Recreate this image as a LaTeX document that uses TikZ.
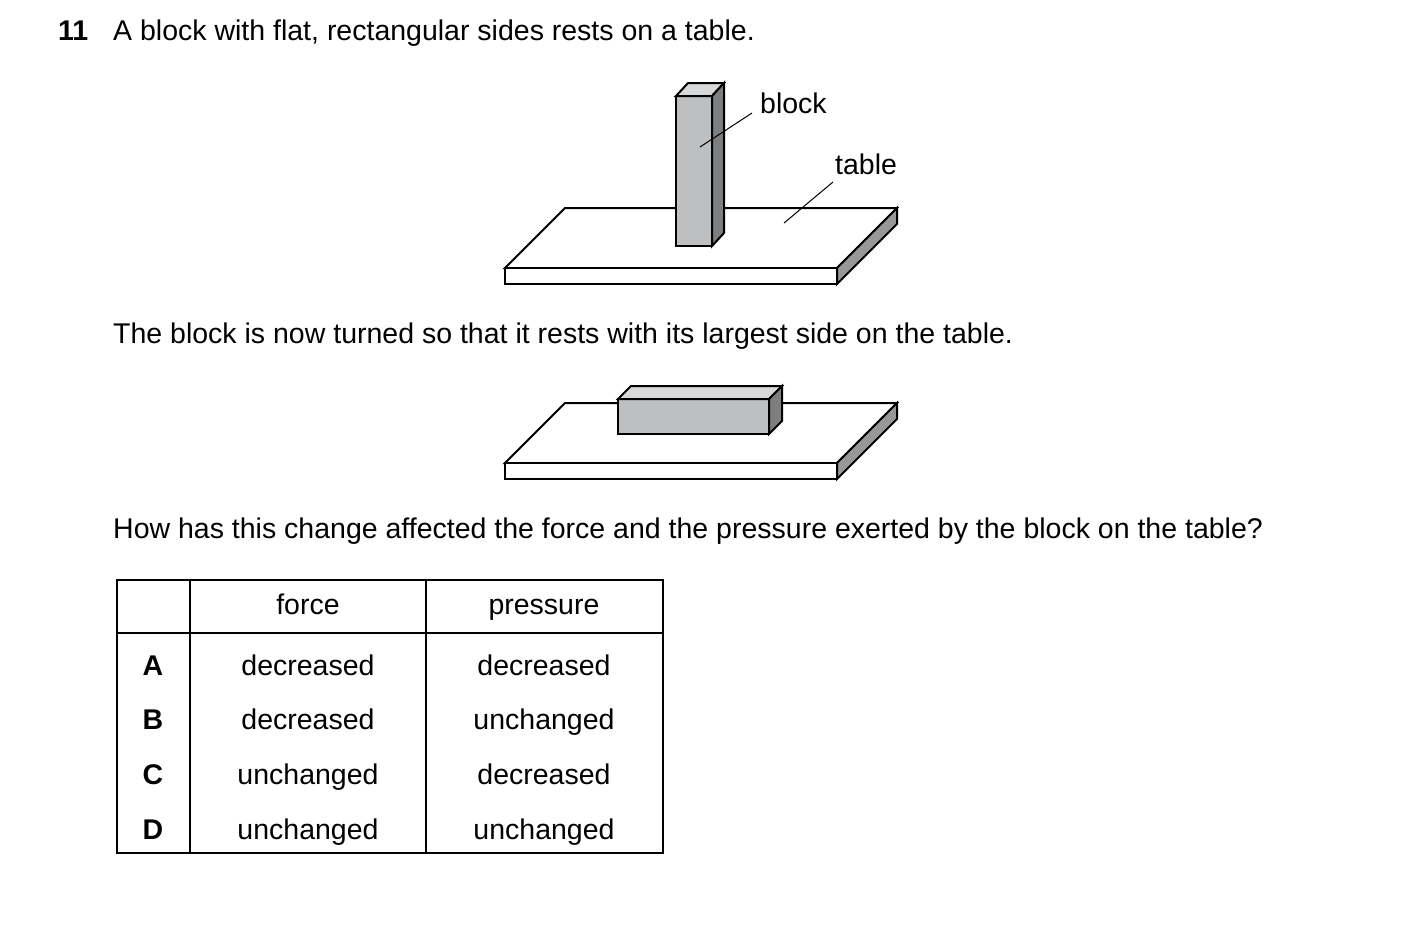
\documentclass[tikz,border=0pt]{standalone}
\usepackage{fontspec}
\setmainfont{Liberation Sans}
\definecolor{blockgrey}{RGB}{190,191,193}
\definecolor{blocktop}{RGB}{215,216,218}
\definecolor{blockside}{RGB}{125,126,128}
\begin{document}
\begin{tikzpicture}[x=1pt,y=-1pt,
    txt/.style={inner sep=0pt,text height=20pt,text depth=6pt,font=\fontsize{28.5}{32}\selectfont},
    edge/.style={line width=2pt,line join=miter},
    leader/.style={line width=1pt}]
\useasboundingbox (0,0) rectangle (1403,946);

\node[txt,anchor=west,font=\fontsize{28.5}{32}\selectfont\bfseries] (num) at (58,33) {11};
\node[txt,anchor=west] (q1) at (113,33) {A block with flat, rectangular sides rests on a table.};
\node[txt,anchor=west] (q2) at (113,336) {The block is now turned so that it rests with its largest side on the table.};
\node[txt,anchor=west] (q3) at (113,531) {How has this change affected the force and the pressure exerted by the block on the table?};

% first table with upright block
\draw[edge,fill=white] (565,208) -- (897,208) -- (837,268) -- (505,268) -- cycle;
\draw[edge,fill=white] (505,268) rectangle (837,284);
\draw[edge,fill=blockside!80] (837,268) -- (897,208) -- (897,224) -- (837,284) -- cycle;
\draw[edge,fill=blockgrey] (676,96) rectangle (712,246);
\draw[edge,fill=blocktop] (676,96) -- (688,83) -- (724,83) -- (712,96) -- cycle;
\draw[edge,fill=blockside] (712,96) -- (724,83) -- (724,233) -- (712,246) -- cycle;
\node[txt,anchor=west] (blk) at (760,106) {block};
\node[txt,anchor=west] (tbl) at (835,167) {table};
\coordinate (blkpt) at (700,147);
\coordinate (blkend) at (752,113);
\coordinate (tblpt) at (784,223);
\coordinate (tblend) at (833,182);
\draw[leader] (blkpt) -- (blkend);
\draw[leader] (tblpt) -- (tblend);

% second table with block on its side
\draw[edge,fill=white] (565,403) -- (897,403) -- (837,463) -- (505,463) -- cycle;
\draw[edge,fill=white] (505,463) rectangle (837,479);
\draw[edge,fill=blockside!80] (837,463) -- (897,403) -- (897,419) -- (837,479) -- cycle;
\draw[edge,fill=blockgrey] (618,399) rectangle (769,434);
\draw[edge,fill=blocktop] (618,399) -- (631,386) -- (782,386) -- (769,399) -- cycle;
\draw[edge,fill=blockside] (769,399) -- (782,386) -- (782,421) -- (769,434) -- cycle;

% answer table
\draw[line width=1.2pt] (117,580) rectangle (663,853);
\draw[line width=1.2pt] (117,633) -- (663,633);
\draw[line width=1.2pt] (190,580) -- (190,853);
\draw[line width=1.2pt] (426,580) -- (426,853);
\node[txt] (hf) at (308,607) {force};
\node[txt] (hp) at (544,607) {pressure};
\foreach \y/\l/\f/\p in {668/A/decreased/decreased,722/B/decreased/unchanged,
                         777/C/unchanged/decreased,832/D/unchanged/unchanged}{
  \node[txt,font=\fontsize{28.5}{32}\selectfont\bfseries] (k\l) at (153,\y) {\l};
  \node[txt] (f\l) at (308,\y) {\f};
  \node[txt] (p\l) at (544,\y) {\p};
}
\end{tikzpicture}
\end{document}
